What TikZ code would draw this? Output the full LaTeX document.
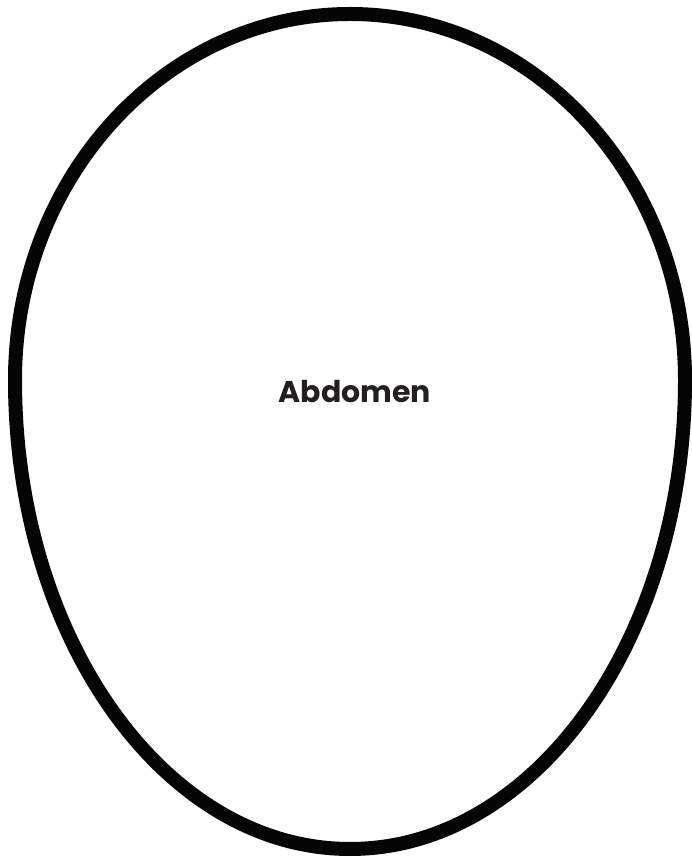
\documentclass[tikz,border=0pt]{standalone}
\usepackage{fontspec}
\setmainfont{Poppins}
\definecolor{ink}{HTML}{231F20}
\tikzset{eggline/.style={draw=black!98, line width=14pt},
  label/.style={font=\fontsize{30}{36}\selectfont\bfseries, text=ink}}
\begin{document}
\begin{tikzpicture}
\useasboundingbox (0pt,0pt) rectangle (692pt,857pt);
\draw[eggline] (15pt,477pt) arc[start angle=180, end angle=0, x radius=335pt, y radius=366pt]
  arc[start angle=0, end angle=-180, x radius=335pt, y radius=469pt] -- cycle;
\node[label] (abd) at (355pt,465pt) {Abdomen};
\end{tikzpicture}
\end{document}
